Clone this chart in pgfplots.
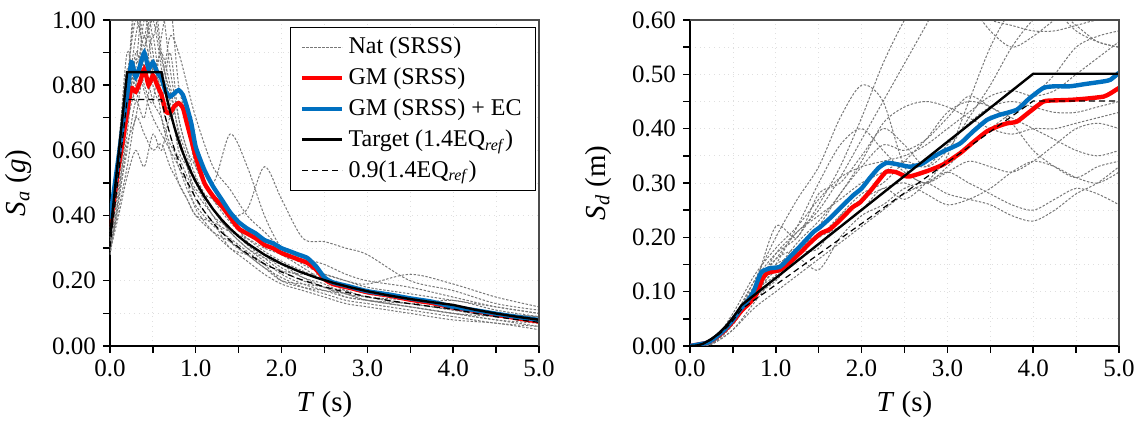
\documentclass[border=0pt]{standalone}
\usepackage{fontspec}
\setmainfont{Liberation Serif}
\usepackage{pgfplots}
\usepackage{pgfplotstable}
\pgfplotsset{compat=1.18}
\definecolor{gmred}{RGB}{255,0,0}
\definecolor{gmblue}{RGB}{0,112,192}
\definecolor{natgray}{RGB}{120,120,120}

\pgfplotstableread{
T c1 c2 c3 c4 c5 c6 c7 c8 c9 c10 c11 c12 c13 c14
0.0 .30 .33 .28 .35 .32 .30 .34 .29 .31 .36 .30 .33 .28 .35
0.1 .55 .50 .45 .60 .48 .42 .55 .40 .52 .62 .46 .50 .44 .58
0.2 .80 .70 .60 .90 .65 .55 .75 .52 .78 .85 .68 .72 .62 .82
0.3 1.05 .85 .75 .80 .90 .70 .95 .60 1.10 .75 .80 .88 .70 1.00
0.4 .95 1.10 .70 1.00 .80 .65 1.05 .55 .85 .90 .95 .78 .85 .92
0.5 1.10 .95 .85 .90 .75 .60 .85 .65 .95 1.00 .80 .70 .75 1.05
0.6 .90 1.05 .80 .70 .95 .62 .90 .60 .75 .85 .75 .65 .70 .88
0.7 .75 .85 .95 .60 1.05 .55 .80 .70 .65 .70 .90 .60 .62 .78
0.8 .60 .70 .90 .50 .80 .50 .65 .62 .55 .75 .70 .55 .58 .66
0.9 .55 .60 .80 .45 .70 .45 .55 .55 .50 .68 .60 .48 .52 .58
1.0 .50 .55 .70 .40 .60 .40 .48 .45 .42 .55 .52 .43 .47 .50
1.2 .42 .45 .55 .35 .50 .38 .45 .38 .35 .45 .42 .37 .40 .40
1.4 .35 .40 .48 .32 .65 .35 .40 .30 .30 .38 .35 .33 .32 .36
1.6 .30 .32 .40 .28 .55 .33 .42 .28 .26 .33 .30 .29 .28 .31
1.8 .26 .28 .35 .24 .40 .30 .55 .25 .22 .29 .27 .25 .24 .27
2.0 .22 .24 .30 .21 .30 .28 .45 .23 .19 .26 .25 .20 .20 .23
2.25 .19 .21 .27 .18 .25 .24 .33 .22 .17 .23 .21 .18 .19 .20
2.5 .17 .18 .25 .16 .22 .20 .32 .22 .15 .20 .19 .17 .18 .18
2.75 .15 .16 .22 .14 .20 .18 .30 .20 .13 .17 .16 .16 .15 .17
3.0 .14 .14 .20 .13 .18 .16 .28 .19 .12 .15 .15 .14 .14 .15
3.5 .12 .12 .18 .11 .16 .14 .20 .22 .10 .13 .13 .13 .12 .14
4.0 .10 .10 .15 .09 .14 .12 .17 .19 .08 .11 .14 .11 .10 .12
4.5 .08 .09 .12 .07 .12 .10 .13 .15 .07 .09 .11 .09 .08 .10
5.0 .07 .08 .10 .06 .10 .09 .11 .12 .05 .08 .09 .08 .06 .09
}\natSa

\pgfplotstableread{
T d1 d2 d3 d4 d5 d6 d7 d8 d9 d10 d11 d12 d13 d14
0 0 0 0 0 0 0 0 0 0 0 0 0 0 0
0.25 .006 .005 .004 .005 .004 .005 .004 .003 .004 .005 .006 .004 .005 .005
0.5 .05 .04 .04 .05 .03 .05 .04 .03 .04 .05 .06 .04 .05 .05
0.75 .12 .10 .11 .09 .08 .10 .10 .07 .09 .11 .13 .10 .12 .11
1.0 .20 .17 .22 .15 .13 .14 .13 .10 .12 .16 .18 .15 .17 .16
1.25 .27 .21 .20 .22 .17 .19 .17 .13 .16 .18 .22 .17 .20 .21
1.5 .33 .25 .28 .30 .18 .23 .20 .16 .14 .20 .27 .22 .26 .24
1.75 .42 .31 .30 .37 .24 .28 .22 .19 .20 .24 .31 .28 .33 .27
2.0 .48 .38 .35 .40 .28 .34 .25 .22 .24 .27 .33 .33 .42 .30
2.25 .45 .45 .40 .36 .30 .41 .29 .25 .26 .29 .34 .37 .52 .32
2.5 .33 .52 .37 .32 .34 .44 .27 .28 .29 .30 .35 .36 .60 .34
2.75 .30 .59 .33 .30 .38 .45 .30 .30 .30 .28 .37 .38 .66 .33
3.0 .33 .66 .36 .32 .43 .44 .35 .32 .28 .26 .40 .42 .65 .37
3.25 .37 .63 .42 .34 .45 .42 .45 .30 .27 .27 .43 .46 .62 .41
3.5 .40 .58 .48 .33 .44 .40 .55 .28 .26 .29 .46 .44 .60 .44
3.75 .43 .55 .55 .32 .41 .39 .62 .26 .24 .32 .47 .42 .59 .45
4.0 .46 .57 .60 .34 .36 .40 .65 .25 .23 .34 .46 .40 .58 .44
4.25 .50 .60 .62 .37 .33 .40 .62 .27 .25 .33 .47 .38 .58 .43
4.5 .55 .62 .59 .40 .31 .41 .58 .29 .28 .31 .50 .36 .59 .43
4.75 .57 .62 .56 .41 .33 .42 .56 .28 .30 .30 .53 .35 .60 .44
5.0 .58 .61 .55 .40 .34 .43 .55 .26 .33 .32 .56 .36 .60 .45
}\natSd

\tikzset{
  nat/.style={natgray, line width=0.5pt, dash pattern=on 1.2pt off 0.8pt, smooth, tension=0.5},
  gmr/.style={gmred, line width=2.2pt, smooth, tension=0.35},
  gmb/.style={gmblue, line width=2.2pt, smooth, tension=0.35},
  tgt/.style={black, line width=1.2pt},
  tgd/.style={black, line width=0.6pt, dash pattern=on 3pt off 2pt},
}

\pgfplotsset{
  myaxis/.style={
    scale only axis, width=214.5pt, height=163pt,
    xmin=0, xmax=5,
    axis x line*=bottom, axis y line*=left,
    axis line style={-, black, line width=1pt},
    tick align=outside,
    major tick length=3.5pt, minor tick length=3.5pt,
    tick style={black, line width=0.7pt},
    xtick={0,1,2,3,4,5}, minor xtick={0.5,1.5,2.5,3.5,4.5},
    grid=both,
    major grid style={gray!25, line width=0.4pt, dotted},
    minor grid style={gray!25, line width=0.4pt, dotted},
    /pgf/number format/assume math mode=true,
    xticklabel style={/pgf/number format/fixed, /pgf/number format/fixed zerofill, /pgf/number format/precision=1},
    yticklabel style={/pgf/number format/fixed, /pgf/number format/fixed zerofill, /pgf/number format/precision=2},
    tick label style={font=\fontsize{12.5}{14}\selectfont},
    label style={font=\fontsize{14.5}{17}\selectfont},
    xlabel={\textit{T} (s)},
    xlabel style={at={(axis description cs:0.5,-0.2)}, anchor=base},
    ylabel style={at={(axis description cs:-0.198,0.5)}, anchor=base},
    after end axis/.code={\draw[black!70, line width=0.7pt] (rel axis cs:0,1) -- (rel axis cs:1,1) -- (rel axis cs:1,0);},
  }
}

\begin{document}
\begin{tikzpicture}
\path[use as bounding box] (-55pt,-38pt) rectangle (515.5pt,173pt);

\begin{axis}[myaxis,
  ymin=0, ymax=1,
  ytick={0,0.2,0.4,0.6,0.8,1.0}, minor ytick={0.1,0.3,0.5,0.7,0.9},
  ylabel={\textit{S}\textsubscript{\textit{a}} (\textit{g})},
  legend image code/.code={\draw[#1] (0pt,0pt) -- (20pt,0pt);},
  legend cell align=left,
  legend style={at={(0.993,0.979)}, anchor=north east, draw=black, fill=white,
    font=\fontsize{12}{14}\selectfont, row sep=1.6pt, inner xsep=5pt, inner ysep=3pt},
]
\addplot[nat] table[x=T,y=c1] {\natSa};
\addlegendentry{Nat (SRSS)}
\pgfplotsinvokeforeach{2,...,14}{\addplot[nat, forget plot] table[x=T,y=c#1] {\natSa};}

\addplot[gmr] coordinates {(0,0.365)(0.1,0.55)(0.15,0.63)(0.2,0.72)(0.25,0.79)(0.3,0.78)(0.35,0.81)(0.4,0.85)(0.45,0.80)(0.5,0.83)(0.55,0.80)(0.6,0.77)(0.65,0.72)(0.7,0.715)(0.75,0.735)(0.8,0.745)(0.85,0.73)(0.9,0.68)(0.95,0.63)(1.0,0.58)(1.1,0.50)(1.2,0.46)(1.3,0.43)(1.4,0.395)(1.5,0.36)(1.6,0.345)(1.7,0.33)(1.8,0.31)(1.9,0.30)(2.0,0.285)(2.1,0.275)(2.2,0.265)(2.3,0.255)(2.4,0.235)(2.5,0.205)(2.6,0.19)(2.8,0.178)(3.0,0.165)(3.25,0.155)(3.5,0.142)(3.75,0.132)(4.0,0.118)(4.25,0.108)(4.5,0.096)(4.75,0.085)(5.0,0.075)};
\addlegendentry{GM (SRSS)}

\addplot[gmb] coordinates {(0,0.39)(0.1,0.58)(0.15,0.68)(0.2,0.77)(0.25,0.87)(0.3,0.825)(0.35,0.86)(0.4,0.90)(0.45,0.85)(0.5,0.87)(0.55,0.84)(0.6,0.82)(0.65,0.78)(0.7,0.765)(0.75,0.775)(0.8,0.785)(0.85,0.77)(0.9,0.73)(0.95,0.68)(1.0,0.61)(1.1,0.54)(1.2,0.49)(1.3,0.45)(1.4,0.41)(1.5,0.38)(1.6,0.36)(1.7,0.345)(1.8,0.325)(1.9,0.315)(2.0,0.30)(2.1,0.29)(2.2,0.28)(2.3,0.27)(2.4,0.245)(2.5,0.21)(2.6,0.195)(2.8,0.182)(3.0,0.168)(3.25,0.158)(3.5,0.146)(3.75,0.136)(4.0,0.12)(4.25,0.11)(4.5,0.099)(4.75,0.089)(5.0,0.08)};
\addlegendentry{GM (SRSS) + EC}

\addplot[tgt] coordinates {(0,0.336)(0.2,0.84)(0.6,0.84)(0.65,0.7754)(0.7,0.72)(0.75,0.672)(0.8,0.63)(0.85,0.5929)(0.9,0.56)(0.95,0.5305)(1.0,0.504)(1.1,0.4582)(1.2,0.42)(1.3,0.3877)(1.4,0.36)(1.5,0.336)(1.6,0.315)(1.8,0.28)(2.0,0.252)(2.2,0.2291)(2.4,0.21)(2.6,0.1938)(2.8,0.18)(3.0,0.168)(3.25,0.1551)(3.5,0.144)(3.75,0.1344)(4.0,0.126)(4.25,0.1116)(4.5,0.0996)(4.75,0.0894)(5.0,0.0806)};
\addlegendentry{Target (1.4EQ\textsubscript{\textit{ref}})}

\addplot[tgd] coordinates {(0,0.3024)(0.2,0.756)(0.6,0.756)(0.65,0.6978)(0.7,0.648)(0.75,0.6048)(0.8,0.567)(0.85,0.5336)(0.9,0.504)(0.95,0.4775)(1.0,0.4536)(1.1,0.4124)(1.2,0.378)(1.3,0.3489)(1.4,0.324)(1.5,0.3024)(1.6,0.2835)(1.8,0.252)(2.0,0.2268)(2.2,0.2062)(2.4,0.189)(2.6,0.1744)(2.8,0.162)(3.0,0.1512)(3.25,0.1396)(3.5,0.1296)(3.75,0.121)(4.0,0.1134)(4.25,0.1004)(4.5,0.0896)(4.75,0.0804)(5.0,0.0726)};
\addlegendentry{0.9(1.4EQ\textsubscript{\textit{ref}})}
\end{axis}

\begin{axis}[myaxis, xshift=290pt,
  ymin=0, ymax=0.6,
  ytick={0,0.1,0.2,0.3,0.4,0.5,0.6}, minor ytick={0.05,0.15,0.25,0.35,0.45,0.55},
  ylabel={\textit{S}\textsubscript{\textit{d}} (m)},
]
\pgfplotsinvokeforeach{1,...,14}{\addplot[nat] table[x=T,y=d#1] {\natSd};}

\addplot[gmr] coordinates {(0,0)(0.2,0.006)(0.3,0.015)(0.4,0.028)(0.5,0.045)(0.6,0.065)(0.7,0.08)(0.78,0.097)(0.84,0.122)(0.9,0.134)(1.0,0.138)(1.05,0.14)(1.15,0.152)(1.28,0.171)(1.4,0.19)(1.52,0.207)(1.63,0.215)(1.75,0.232)(1.83,0.245)(1.9,0.256)(1.98,0.264)(2.1,0.285)(2.2,0.305)(2.29,0.321)(2.4,0.32)(2.5,0.313)(2.56,0.312)(2.65,0.316)(2.8,0.324)(2.95,0.334)(3.15,0.355)(3.3,0.375)(3.46,0.395)(3.6,0.405)(3.7,0.41)(3.81,0.413)(3.95,0.43)(4.12,0.45)(4.25,0.452)(4.43,0.453)(4.6,0.455)(4.82,0.459)(4.9,0.465)(5,0.475)};

\addplot[gmb] coordinates {(0,0)(0.2,0.006)(0.3,0.016)(0.4,0.03)(0.5,0.048)(0.58,0.066)(0.68,0.085)(0.74,0.1)(0.8,0.125)(0.84,0.137)(0.93,0.143)(1.05,0.146)(1.165,0.164)(1.28,0.183)(1.44,0.21)(1.51,0.218)(1.63,0.235)(1.79,0.26)(1.9,0.277)(2.0,0.29)(2.1,0.31)(2.2,0.328)(2.29,0.337)(2.4,0.335)(2.56,0.33)(2.7,0.335)(2.8,0.345)(2.95,0.358)(3.15,0.373)(3.3,0.395)(3.46,0.416)(3.6,0.425)(3.81,0.435)(3.95,0.455)(4.12,0.475)(4.25,0.478)(4.43,0.478)(4.6,0.482)(4.82,0.487)(4.9,0.49)(5,0.503)};

\addplot[tgt] coordinates {(0,0)(0.05,0.000287)(0.1,0.00146)(0.15,0.00399)(0.2,0.00835)(0.25,0.01305)(0.3,0.01879)(0.35,0.02557)(0.4,0.0334)(0.45,0.04227)(0.5,0.0522)(0.55,0.06314)(0.6,0.0751)(1.0,0.1252)(2.0,0.2505)(3.0,0.3757)(4.0,0.501)(5.0,0.501)};

\addplot[tgd] coordinates {(0,0)(0.05,0.000258)(0.1,0.00131)(0.15,0.00359)(0.2,0.00752)(0.25,0.01174)(0.3,0.01691)(0.35,0.02301)(0.4,0.03006)(0.45,0.03804)(0.5,0.0470)(0.55,0.05683)(0.6,0.0676)(1.0,0.1127)(2.0,0.2254)(3.0,0.3381)(4.0,0.4509)(5.0,0.4509)};
\end{axis}
\end{tikzpicture}
\end{document}
